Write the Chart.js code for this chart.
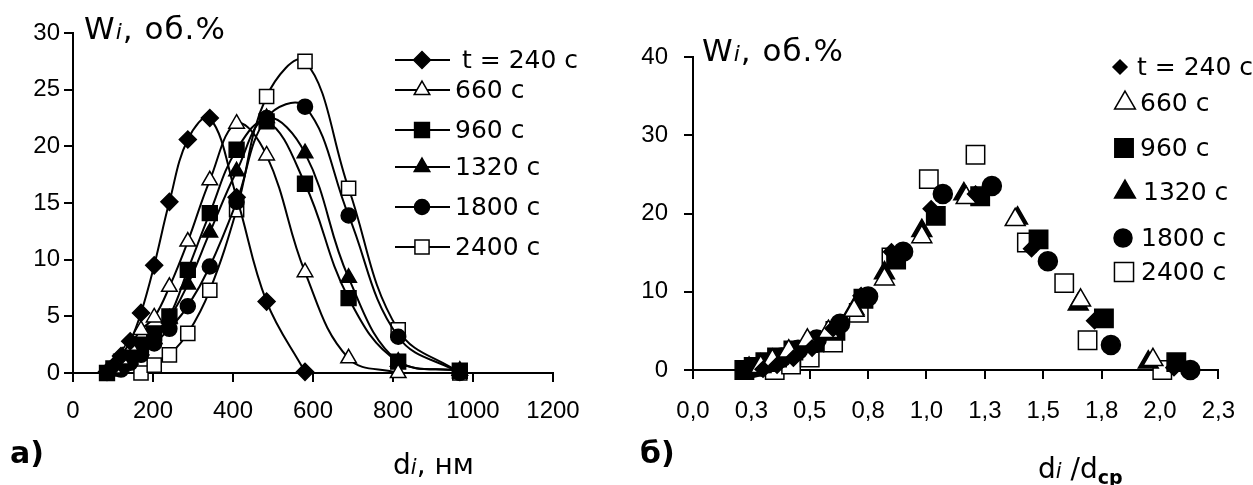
<!DOCTYPE html>
<html><head><meta charset="utf-8">
<script src="https://cdn.jsdelivr.net/npm/chart.js@4.4.0/dist/chart.umd.min.js"></script>
<style>
body{margin:0;background:#fff;width:1253px;height:485px;overflow:hidden;position:relative;font-family:"DejaVu Sans",sans-serif;color:#000;}
canvas{position:absolute;top:0;}
.lbl{position:absolute;white-space:nowrap;line-height:1;}
</style></head><body>
<canvas id="cA" width="630" height="485" style="left:0;width:630px;height:485px"></canvas>
<canvas id="cB" width="623" height="485" style="left:630px;width:623px;height:485px"></canvas>
<div class="lbl" style="left:84px;top:13px;font-size:31px;letter-spacing:1px">W<i style="font-size:22px">i</i>, об.%</div>
<div class="lbl" style="left:702px;top:35px;font-size:31px;letter-spacing:1px">W<i style="font-size:22px">i</i>, об.%</div>
<div class="lbl" style="left:10px;top:438px;font-size:30px;font-weight:bold">а)</div>
<div class="lbl" style="left:640px;top:438px;font-size:30px;font-weight:bold">б)</div>
<div class="lbl" style="left:393px;top:451px;font-size:28px">d<i style="font-size:21px">i</i>, нм</div>
<div class="lbl" style="left:1038px;top:455px;font-size:28px">d<i style="font-size:21px">i</i> /d<span style="font-size:19px;font-weight:bold;position:relative;top:6px">ср</span></div>
<script>
// ---- data ----
const seriesLabels = ['t = 240 с', '660 с', '960 с', '1320 с', '1800 с', '2400 с'];

// chart a): W_i (об.%) vs d_i (нм)
const dA_240  = [85, 101, 120, 143, 170, 203, 241, 287, 342, 409, 484, 580];
const wA_240  = [0.1, 0.6, 1.5, 2.8, 5.3, 9.5, 15.1, 20.6, 22.5, 15.5, 6.3, 0.1];
const dA_660  = [101, 120, 143, 170, 203, 241, 287, 342, 409, 484, 580, 689, 813];
const wA_660  = [0.4, 1.2, 2.4, 3.8, 4.9, 7.6, 11.6, 17.0, 22.0, 19.2, 8.9, 1.3, 0];
const dA_960  = [85, 101, 120, 143, 170, 203, 241, 287, 342, 409, 484, 580, 689, 813, 967];
const wA_960  = [0, 0.4, 1.0, 1.6, 2.5, 3.5, 5.0, 9.1, 14.1, 19.7, 22.2, 16.7, 6.6, 1.0, 0.2];
const dA_1320 = [101, 120, 143, 170, 203, 241, 287, 342, 409, 484, 580, 689, 813, 967];
const wA_1320 = [0.2, 0.6, 1.2, 2.0, 3.0, 4.8, 7.8, 12.4, 17.8, 22.5, 19.4, 8.4, 1.0, 0.2];
const dA_1800 = [120, 143, 170, 203, 241, 287, 342, 409, 484, 580, 689, 813, 967];
const wA_1800 = [0.3, 0.9, 1.6, 2.6, 3.9, 5.9, 9.4, 15.1, 22.5, 23.5, 13.9, 3.2, 0];
const dA_2400 = [170, 203, 241, 287, 342, 409, 484, 580, 689, 813, 967];
const wA_2400 = [0, 0.7, 1.6, 3.5, 7.3, 14.4, 24.4, 27.5, 16.3, 3.8, 0];

// chart б): W_i (об.%) vs d_i/d_ср
const rB_240  = [0.30, 0.36, 0.43, 0.51, 0.60, 0.72, 0.85, 1.02, 1.21, 1.45, 1.72, 2.06];
const wB_240  = [0.1, 0.6, 1.5, 2.8, 5.3, 9.5, 15.1, 20.6, 22.5, 15.5, 6.3, 0.3];
const rB_660  = [0.29, 0.34, 0.41, 0.49, 0.58, 0.69, 0.82, 0.98, 1.17, 1.38, 1.66, 1.97];
const wB_660  = [0.4, 1.2, 2.4, 3.8, 4.9, 7.6, 11.6, 17.0, 22.0, 19.2, 8.9, 1.3];
const rB_960  = [0.22, 0.26, 0.31, 0.36, 0.43, 0.52, 0.61, 0.73, 0.87, 1.04, 1.23, 1.48, 1.76, 2.07];
const wB_960  = [0, 0.4, 1.0, 1.6, 2.5, 3.5, 5.0, 9.1, 14.1, 19.7, 22.2, 16.7, 6.6, 1.0];
const rB_1320 = [0.24, 0.29, 0.34, 0.41, 0.49, 0.58, 0.69, 0.82, 0.98, 1.16, 1.39, 1.65, 1.95];
const wB_1320 = [0.2, 0.6, 1.2, 2.0, 3.0, 4.8, 7.8, 12.4, 17.8, 22.5, 19.4, 8.4, 1.0];
const rB_1800 = [0.26, 0.32, 0.38, 0.45, 0.53, 0.63, 0.75, 0.90, 1.07, 1.28, 1.52, 1.79, 2.13];
const wB_1800 = [0.3, 0.9, 1.6, 2.6, 3.9, 5.9, 9.4, 15.1, 22.5, 23.5, 13.9, 3.2, 0];
const rB_2400 = [0.35, 0.42, 0.50, 0.60, 0.71, 0.85, 1.01, 1.21, 1.43, 1.59, 1.69, 2.01];
const wB_2400 = [0, 0.7, 1.6, 3.5, 7.3, 14.4, 24.4, 27.5, 16.3, 11.1, 3.8, 0];

// tick values / labels
const xTicksA = [0, 200, 400, 600, 800, 1000, 1200];
const yTicksA = [0, 5, 10, 15, 20, 25, 30];
const xTicksB = [0, 0.25, 0.5, 0.75, 1.0, 1.25, 1.5, 1.75, 2.0, 2.25];
const xTickLabelsB = ['0,0', '0,3', '0,5', '0,8', '1,0', '1,3', '1,5', '1,8', '2,0', '2,3'];
const yTicksB = [0, 10, 20, 30, 40];

// ---- styles ----
const FONT = 'DejaVu Sans';
const TICKFONT = {family: 'Liberation Sans', size: 24};
const stylesA = [
  {ps: 'rectRot',  fill: '#000', r: 8.5},
  {ps: 'triangle', fill: '#fff', r: 9},
  {ps: 'rect',     fill: '#000', r: 10.5},
  {ps: 'triangle', fill: '#000', r: 9},
  {ps: 'circle',   fill: '#000', r: 7.5},
  {ps: 'rect',     fill: '#fff', r: 10}
];
const stylesB = [
  {ps: 'rectRot',  fill: '#000', r: 8},
  {ps: 'triangle', fill: '#fff', r: 11.5},
  {ps: 'rect',     fill: '#000', r: 13},
  {ps: 'triangle', fill: '#000', r: 11.5},
  {ps: 'circle',   fill: '#000', r: 9.5},
  {ps: 'rect',     fill: '#fff', r: 13}
];

const pts = (xs, ys) => xs.map((x, i) => ({x: x, y: ys[i]}));
const seriesA = [[dA_240, wA_240], [dA_660, wA_660], [dA_960, wA_960], [dA_1320, wA_1320], [dA_1800, wA_1800], [dA_2400, wA_2400]];
const seriesB = [[rB_240, wB_240], [rB_660, wB_660], [rB_960, wB_960], [rB_1320, wB_1320], [rB_1800, wB_1800], [rB_2400, wB_2400]];

function axisCommon(extra) {
  return Object.assign({
    type: 'linear',
    border: {display: true, color: '#000', width: 2},
    grid: {display: true, drawOnChartArea: false, drawTicks: true, tickLength: 9, color: '#000', lineWidth: 2},
  }, extra);
}

function legendPlugin(items, styles, withLine) {
  return {
    id: 'customLegend',
    afterDraw(chart) {
      const ctx = chart.ctx;
      ctx.save();
      items.forEach((it, i) => {
        const st = styles[i];
        if (withLine) {
          ctx.strokeStyle = '#000'; ctx.lineWidth = 2;
          ctx.beginPath(); ctx.moveTo(it.x0, it.y); ctx.lineTo(it.x1, it.y); ctx.stroke();
        }
        ctx.fillStyle = st.fill; ctx.strokeStyle = '#000'; ctx.lineWidth = 1.5;
        Chart.helpers.drawPoint(ctx, {pointStyle: st.ps, radius: it.r || st.r, rotation: 0, borderWidth: 1.5}, it.mx, it.y);
        ctx.fillStyle = '#000';
        ctx.font = '25px "' + FONT + '"';
        ctx.textBaseline = 'middle';
        ctx.textAlign = 'left';
        ctx.fillText(seriesLabels[i], it.tx, it.y + 1);
      });
      ctx.restore();
    }
  };
}

// ---- chart a) ----
const legendA = [
  {y: 60,  x0: 395, x1: 450, mx: 422, tx: 462},
  {y: 90,  x0: 395, x1: 450, mx: 422, tx: 455},
  {y: 130, x0: 395, x1: 450, mx: 422, tx: 455},
  {y: 167, x0: 395, x1: 450, mx: 422, tx: 455},
  {y: 207, x0: 395, x1: 450, mx: 422, tx: 455},
  {y: 247, x0: 395, x1: 450, mx: 422, tx: 455}
];
new Chart(document.getElementById('cA'), {
  type: 'scatter',
  data: {
    datasets: seriesA.map((s, i) => ({
      label: seriesLabels[i],
      data: pts(s[0], s[1]),
      showLine: true,
      tension: 0.4,
      borderColor: '#000',
      borderWidth: 2,
      pointStyle: stylesA[i].ps,
      pointRadius: stylesA[i].r,
      pointBackgroundColor: stylesA[i].fill,
      pointBorderColor: '#000',
      pointBorderWidth: 1.5,
      clip: 14
    }))
  },
  options: {
    responsive: false, animation: false,
    layout: {padding: {left: 0, right: 77, top: 33, bottom: 42}},
    plugins: {legend: {display: false}, tooltip: {enabled: false}},
    scales: {
      x: axisCommon({
        min: 0, max: 1200,
        afterBuildTicks: s => { s.ticks = xTicksA.map(v => ({value: v})); },
        afterFit: s => { s.height = 70; },
        ticks: {color: '#000', font: TICKFONT, padding: 15, maxRotation: 0, autoSkip: false,
                callback: (v, idx) => String(xTicksA[idx])}
      }),
      y: axisCommon({
        min: 0, max: 30,
        afterBuildTicks: s => { s.ticks = yTicksA.map(v => ({value: v})); },
        afterFit: s => { s.width = 73; },
        ticks: {color: '#000', font: TICKFONT, padding: 4, autoSkip: false,
                callback: (v, idx) => String(yTicksA[idx])}
      })
    }
  },
  plugins: [legendPlugin(legendA, stylesA, true)]
});

// ---- chart б) ----
const legendB = [
  {y: 67,  mx: 490, tx: 507, r: 7},
  {y: 103, mx: 495, tx: 510, r: 12},
  {y: 148, mx: 494, tx: 510, r: 13},
  {y: 192, mx: 495, tx: 513, r: 12},
  {y: 238, mx: 493, tx: 511, r: 9},
  {y: 272, mx: 494, tx: 511, r: 13.5}
];
new Chart(document.getElementById('cB'), {
  type: 'scatter',
  data: {
    datasets: seriesB.map((s, i) => ({
      label: seriesLabels[i],
      data: pts(s[0], s[1]),
      showLine: false,
      pointStyle: stylesB[i].ps,
      pointRadius: stylesB[i].r,
      pointBackgroundColor: stylesB[i].fill,
      pointBorderColor: '#000',
      pointBorderWidth: 1.5,
      clip: false
    }))
  },
  options: {
    responsive: false, animation: false,
    layout: {padding: {left: 0, right: 32, top: 57, bottom: 45}},
    plugins: {legend: {display: false}, tooltip: {enabled: false}},
    scales: {
      x: axisCommon({
        min: 0, max: 2.25,
        afterBuildTicks: s => { s.ticks = xTicksB.map(v => ({value: v})); },
        afterFit: s => { s.height = 70; },
        ticks: {color: '#000', font: TICKFONT, padding: 18, maxRotation: 0, autoSkip: false,
                callback: (v, idx) => xTickLabelsB[idx]}
      }),
      y: axisCommon({
        min: 0, max: 40,
        afterBuildTicks: s => { s.ticks = yTicksB.map(v => ({value: v})); },
        afterFit: s => { s.width = 63; },
        ticks: {color: '#000', font: TICKFONT, padding: 16, autoSkip: false,
                callback: (v, idx) => String(yTicksB[idx])}
      })
    }
  },
  plugins: [legendPlugin(legendB, stylesB, false)]
});
</script>
</body></html>
